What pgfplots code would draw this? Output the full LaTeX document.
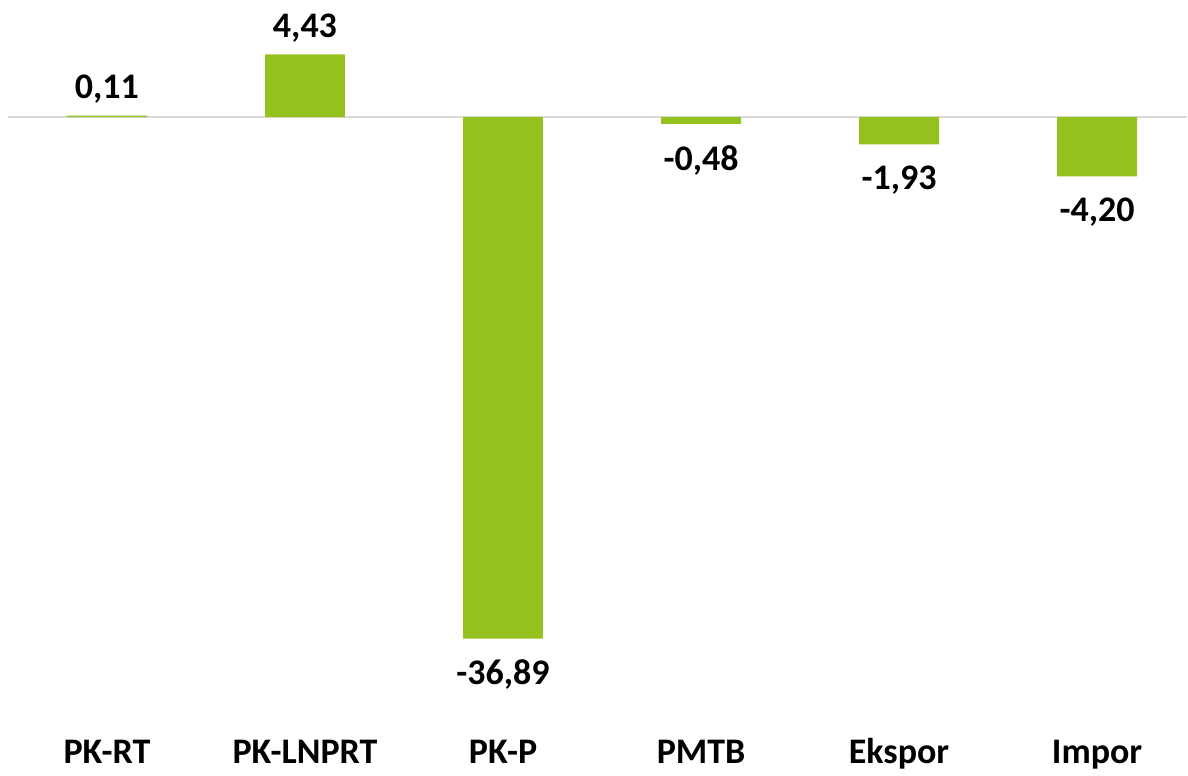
\documentclass[border=0pt]{standalone}
\usepackage{fontspec}
\setmainfont{Carlito}
\usepackage{pgfplots}
\pgfplotsset{compat=1.18}
\usepackage{pgfplotstable}
\definecolor{barG}{HTML}{95C11F}
\definecolor{zline}{HTML}{D9D9D9}
\pgfplotstableread{
x y
0 0.11
1 4.43
2 -36.89
3 -0.48
4 -1.93
5 -4.20
}\datatable
\begin{document}
\begin{tikzpicture}
\begin{axis}[
  scale only axis,
  width=594pt, height=387pt,
  xmin=-0.540, xmax=5.454,
  ymin=-46.43, ymax=8.27,
  axis line style={draw=none},
  major tick length=0pt,
  ytick=\empty,
  xtick={0,1,2,3,4,5},
  xticklabels={PK-RT,PK-LNPRT,PK-P,PMTB,Ekspor,Impor},
  xticklabel style={anchor=base, yshift=5pt, font=\fontsize{18}{21}\selectfont\bfseries},
  clip=false,
  ybar, bar width=40pt,
  nodes near coords,
  nodes near coords align={vertical},
  point meta=y,
  visualization depends on={rawy \as \rawy},
  every node near coord/.append style={
    /pgf/number format/fixed, /pgf/number format/fixed zerofill,
    /pgf/number format/precision=2, /pgf/number format/use comma,
    /pgf/number format/assume math mode=true,
    font=\fontsize{18}{21}\selectfont\bfseries, text=black, inner ysep=6pt,
    yshift={\rawy<0 ? -4.5 : 0}},
]
\draw[zline, line width=1pt] (axis cs:-0.4995,0) -- (axis cs:5.454,0);
\addplot[fill=barG, draw=none] table[x=x, y=y] {\datatable};
\end{axis}
\end{tikzpicture}
\end{document}
